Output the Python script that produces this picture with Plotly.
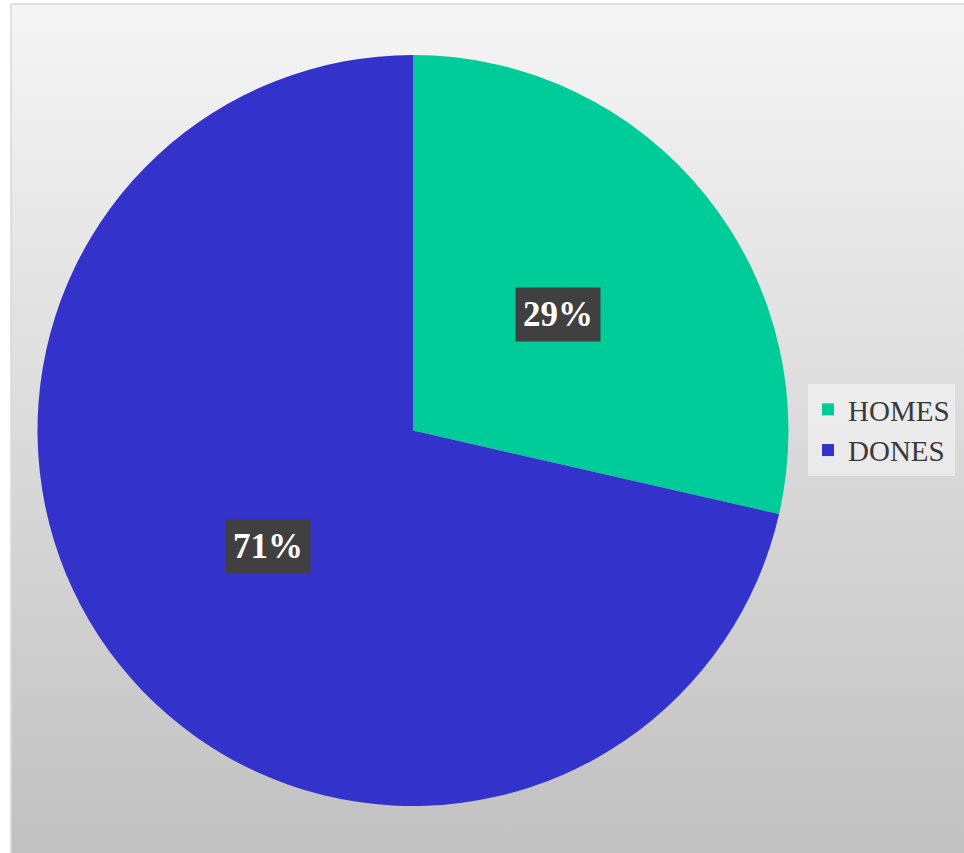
import math
import base64
import plotly.graph_objects as go

labels = ["HOMES", "DONES"]
values = [2, 5]
colors = ["#00CC99", "#3333CC"]

W, H = 964, 853
# pie geometry (pixels)
cx, cy, r = 413, 430.5, 375.5

total = sum(values)
pcts = [v / total for v in values]

fig = go.Figure()
fig.add_trace(go.Pie(
    labels=labels, values=values, sort=False, direction="clockwise", rotation=0,
    marker=dict(colors=colors, line=dict(width=0)),
    textinfo="none", hoverinfo="label+percent",
    domain=dict(x=[(cx - r) / W, (cx + r) / W], y=[1 - (cy + r) / H, 1 - (cy - r) / H]),
    showlegend=True,
))

# labels at mid-angle of each slice, about half radius
cum = 0.0
for p in pcts:
    mid = (cum + p / 2) * 2 * math.pi
    cum += p
    px = cx + 0.495 * r * math.sin(mid)
    py = cy - 0.495 * r * math.cos(mid)
    fig.add_annotation(
        x=px / W, y=1 - py / H, xref="paper", yref="paper",
        text=f"<b>{round(p * 100)}%</b>", showarrow=False,
        font=dict(family="Liberation Serif", size=35, color="white"),
        bgcolor="#404040", borderpad=7, xanchor="center", yanchor="middle",
    )

svg = ('<svg xmlns="http://www.w3.org/2000/svg" width="100" height="100" preserveAspectRatio="none">'
       '<defs><linearGradient id="g" x1="0" y1="0" x2="0" y2="1">'
       '<stop offset="0" stop-color="#f5f5f5"/><stop offset="1" stop-color="#c1c1c1"/>'
       '</linearGradient></defs><rect width="100" height="100" fill="url(#g)"/></svg>')
src = "data:image/svg+xml;base64," + base64.b64encode(svg.encode()).decode()

fig.add_layout_image(dict(
    source=src, xref="paper", yref="paper", x=11 / W, y=1 - 4 / H,
    sizex=1 - 11 / W, sizey=1 - 4 / H, sizing="stretch",
    xanchor="left", yanchor="top", layer="below",
))
fig.add_shape(type="line", xref="paper", yref="paper", x0=11 / W, x1=11 / W, y0=0, y1=1 - 4 / H,
              line=dict(color="#d9d9d9", width=1.5), layer="below")
fig.add_shape(type="line", xref="paper", yref="paper", x0=11 / W, x1=1, y0=1 - 4 / H, y1=1 - 4 / H,
              line=dict(color="#d9d9d9", width=1.5), layer="below")

fig.update_layout(
    width=W, height=H, margin=dict(l=0, r=0, t=0, b=0),
    paper_bgcolor="white", plot_bgcolor="rgba(0,0,0,0)",
    legend=dict(
        x=808 / W, y=1 - 430 / H, xanchor="left", yanchor="middle",
        bgcolor="rgba(255,255,255,0.45)", font=dict(family="Liberation Serif", size=29, color="#3a3a3a"),
        itemwidth=30, tracegroupgap=0,
    ),
)

fig.write_html("out.html", config={"displayModeBar": False},
               post_script="document.body.style.margin='0';document.body.style.overflow='hidden';")
